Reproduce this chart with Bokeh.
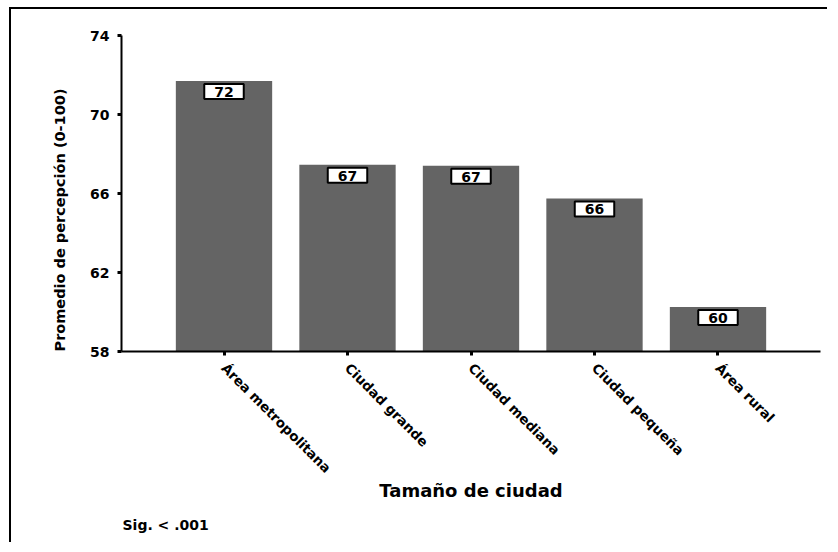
import math
from bokeh.plotting import figure
from bokeh.models import FactorRange, Range1d, FixedTicker, ColumnDataSource, Title
from bokeh.embed import file_html
from bokeh.resources import INLINE
from bokeh.core.properties import value

categories = ["Área metropolitana", "Ciudad grande", "Ciudad mediana", "Ciudad pequeña", "Área rural"]
means = [71.7, 67.45, 67.4, 65.75, 60.25]
mean_labels = ["72", "67", "67", "66", "60"]
y_ticks = [58, 62, 66, 70, 74]
y_title = "Promedio de percepción (0-100)"
x_title = "Tamaño de ciudad"
note = "Sig. < .001"

FONT = "DejaVu Sans"
W, H = 818, 535

p = figure(width=W, height=H,
           x_range=FactorRange(*categories, range_padding=0.132),
           y_range=Range1d(58, 74),
           output_backend="svg", toolbar_location=None,
           min_border_left=110, min_border_right=9,
           min_border_top=26, min_border_bottom=193)
p.styles = {"border-top": "2px solid black", "border-left": "2px solid black",
            "margin-left": "9px", "margin-top": "7px"}
p.outline_line_color = None
p.xgrid.visible = False
p.ygrid.visible = False
p.background_fill_color = "white"
p.border_fill_color = "white"

src = ColumnDataSource(dict(cat=categories, mean=means, lab=mean_labels))
p.vbar(x="cat", top="mean", bottom=58, width=0.78, source=src,
       fill_color="#646464", line_color=None)
p.text(x="cat", y="mean", text="lab", source=src,
       text_align="center", text_baseline="top", y_offset=3,
       text_font=value(FONT), text_font_style="bold", text_font_size="14px",
       text_color="black",
       background_fill_color="white", border_line_color="black", border_line_width=2,
       padding=dict(left=10, right=10, top=3, bottom=2))

for ax in (p.xaxis[0], p.yaxis[0]):
    ax.axis_line_width = 2
    ax.axis_line_color = "black"
    ax.major_tick_line_width = 3
    ax.major_tick_line_color = "black"
    ax.major_tick_in = 0
    ax.major_tick_out = 4
    ax.minor_tick_line_color = None
    ax.major_label_text_font = FONT
    ax.major_label_text_font_style = "bold"
    ax.major_label_text_color = "black"
    ax.axis_label_text_font = FONT
    ax.axis_label_text_font_style = "bold"
    ax.axis_label_text_color = "black"

p.yaxis.ticker = FixedTicker(ticks=y_ticks)
p.yaxis.major_label_text_font_size = "14px"
p.yaxis.major_label_standoff = 8

p.xaxis.major_label_text_font_size = "13.5px"
p.xaxis.major_label_orientation = -math.pi / 4
p.xaxis.major_label_standoff = 10
p.xaxis.axis_label = x_title
p.xaxis.axis_label_text_font_size = "18px"
p.xaxis.axis_label_standoff = -5

p.add_layout(Title(text=y_title, align="left", standoff=40,
                   text_font=FONT, text_font_style="bold", text_font_size="14.5px",
                   text_color="black"), "left")
p.add_layout(Title(text=note, align="left", offset=1, standoff=23,
                   text_font=FONT, text_font_style="bold", text_font_size="14px",
                   text_color="black"), "below")

open("out.html", "w").write(file_html(p, INLINE))
